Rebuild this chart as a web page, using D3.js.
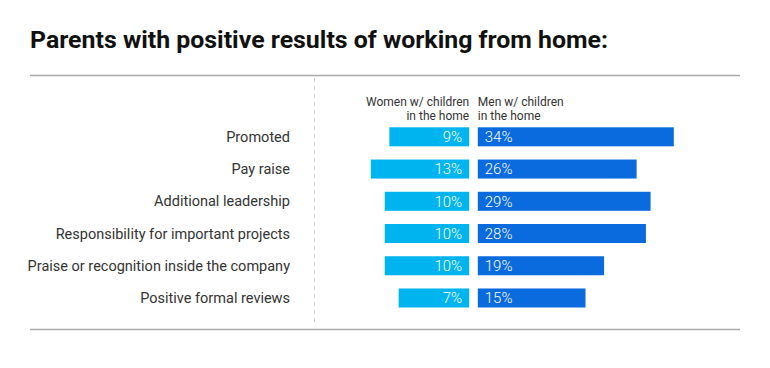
<!DOCTYPE html>
<html>
<head>
<meta charset="utf-8">
<script src="https://cdn.jsdelivr.net/npm/d3@7"></script>
<style>
  body { margin: 0; background: #fff; }
  text { font-family: Roboto, "Open Sans", sans-serif; }
</style>
</head>
<body>
<div id="chart"></div>
<script>
const categories = [
    "Promoted",
    "Pay raise",
    "Additional leadership",
    "Responsibility for important projects",
    "Praise or recognition inside the company",
    "Positive formal reviews"
];
const women = [9, 13, 10, 10, 10, 7];
const men = [34, 26, 29, 28, 19, 15];
const seriesLabels = [["Women w/ children", "in the home"], ["Men w/ children", "in the home"]];

const width = 770, height = 368;
const mid = 473.5, gap = 4.3;

const svg = d3.select("#chart").append("svg")
    .attr("width", width)
    .attr("height", height);

// title
svg.append("text")
    .attr("x", 30)
    .attr("y", 48)
    .attr("font-size", 23)
    .attr("font-weight", 700)
    .attr("fill", "#111")
    .attr("textLength", 578)
    .attr("lengthAdjust", "spacingAndGlyphs")
    .text("Parents with positive results of working from home:");

// rules
svg.append("line")
    .attr("x1", 30).attr("x2", 740)
    .attr("y1", 75.5).attr("y2", 75.5)
    .attr("stroke", "#aaa").attr("stroke-width", 1.5);
svg.append("line")
    .attr("x1", 30).attr("x2", 740)
    .attr("y1", 329.5).attr("y2", 329.5)
    .attr("stroke", "#aaa").attr("stroke-width", 1.5);
svg.append("line")
    .attr("x1", 314.5).attr("x2", 314.5)
    .attr("y1", 78).attr("y2", 326)
    .attr("stroke", "#ccc").attr("stroke-width", 1)
    .attr("stroke-dasharray", "4,4");

const y = d3.scaleBand()
    .domain(categories)
    .range([127.3, 307.5])
    .paddingInner(0.41)
    .paddingOuter(0);

// bar length: leaves room for the label at zero
const len = d3.scaleLinear().domain([0, 34]).range([38, 196]);

// series headers
seriesLabels.forEach((lines, i) => {
    const t = svg.append("text")
        .attr("x", i === 0 ? mid - gap : mid + gap)
        .attr("y", 106)
        .attr("text-anchor", i === 0 ? "end" : "start")
        .attr("font-size", 12)
        .attr("fill", "#333");
    lines.forEach((l, j) => {
        t.append("tspan")
            .attr("x", i === 0 ? mid - gap : mid + gap)
            .attr("dy", j === 0 ? 0 : 13.5)
            .text(l);
    });
});

const rows = svg.selectAll("g.row")
    .data(categories.map((c, i) => ({ c, w: women[i], m: men[i] })))
    .join("g")
    .attr("class", "row")
    .attr("transform", d => `translate(0,${y(d.c)})`);

rows.append("text")
    .attr("x", 290)
    .attr("y", y.bandwidth() / 2)
    .attr("dy", "0.35em")
    .attr("text-anchor", "end")
    .attr("font-size", 14.5)
    .attr("fill", "#333")
    .text(d => d.c);

rows.append("rect")
    .attr("x", d => mid - gap - len(d.w))
    .attr("width", d => len(d.w))
    .attr("height", y.bandwidth())
    .attr("fill", "#00b4ef");

rows.append("rect")
    .attr("x", mid + gap)
    .attr("width", d => len(d.m))
    .attr("height", y.bandwidth())
    .attr("fill", "#0a6bdf");

rows.append("text")
    .attr("x", mid - gap - 7)
    .attr("y", y.bandwidth() / 2)
    .attr("dy", "0.36em")
    .attr("text-anchor", "end")
    .attr("font-size", 15)
    .attr("font-weight", 300)
    .attr("fill", "#fff")
    .text(d => d.w + "%");

rows.append("text")
    .attr("x", mid + gap + 7)
    .attr("y", y.bandwidth() / 2)
    .attr("dy", "0.36em")
    .attr("font-size", 15)
    .attr("font-weight", 300)
    .attr("fill", "#fff")
    .text(d => d.m + "%");
</script>
</body>
</html>
